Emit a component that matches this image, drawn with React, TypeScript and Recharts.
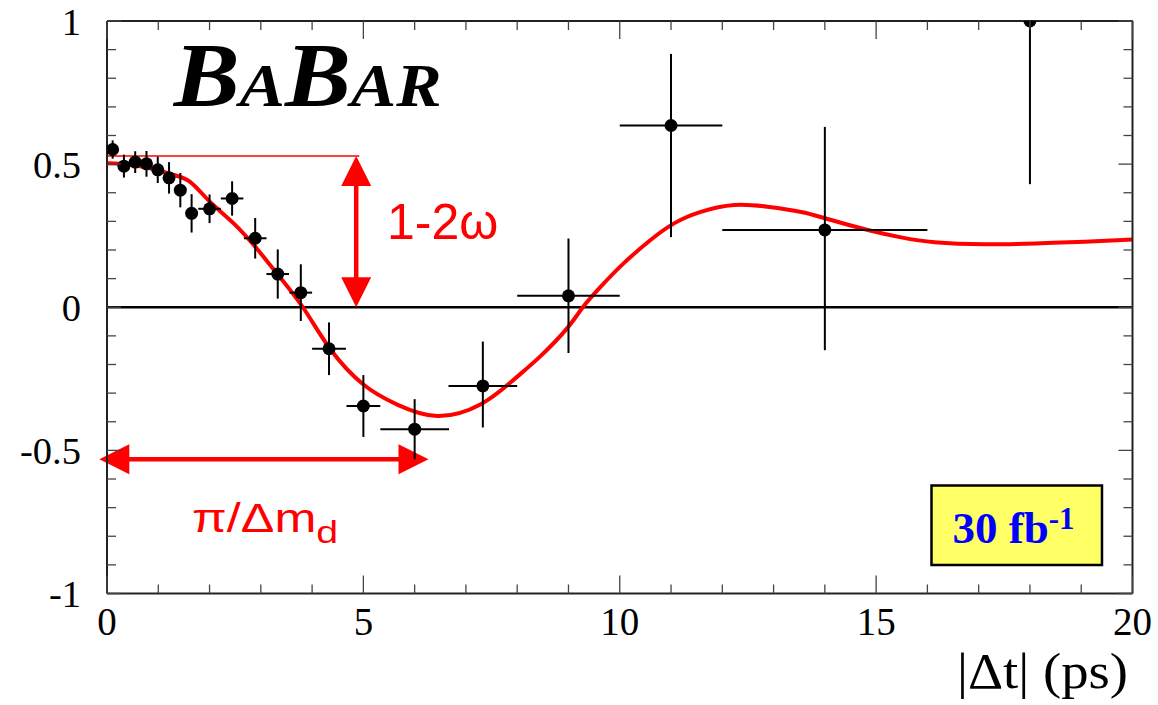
import React from 'react';
import {
  ComposedChart,
  XAxis,
  YAxis,
  Scatter,
  Line,
  ErrorBar,
  ReferenceLine,
  ReferenceDot,
  ReferenceArea,
} from 'recharts';

// ---- data ----
const dtCenters = [0.11, 0.33, 0.55, 0.77, 0.99, 1.21, 1.43, 1.65, 2.0, 2.44, 2.89, 3.33, 3.78, 4.33, 5.0, 6.0, 7.33, 9.0, 11.0, 14.0, 18.0];
const asymmetry = [0.551, 0.493, 0.507, 0.501, 0.48, 0.452, 0.409, 0.328, 0.344, 0.38, 0.241, 0.116, 0.051, -0.145, -0.345, -0.426, -0.275, 0.04, 0.635, 0.27, 1.0];
const errLow = [0.032, 0.04, 0.038, 0.045, 0.046, 0.055, 0.06, 0.067, 0.05, 0.06, 0.071, 0.086, 0.099, 0.092, 0.108, 0.105, 0.145, 0.2, 0.39, 0.42, 0.57];
const errHigh = [0.032, 0.04, 0.038, 0.045, 0.046, 0.055, 0.06, 0.067, 0.05, 0.06, 0.071, 0.086, 0.099, 0.092, 0.108, 0.105, 0.155, 0.2, 0.25, 0.36, 0.0];
const dtHalfWidths = [0.11, 0.11, 0.11, 0.11, 0.11, 0.11, 0.11, 0.11, 0.22, 0.22, 0.22, 0.22, 0.22, 0.33, 0.33, 0.67, 0.67, 1.0, 1.0, 2.0, 2.0];

const curveDt = [0, 0.5, 0.97, 1.3, 1.62, 2.01, 2.47, 2.92, 3.31, 3.82, 4.35, 5.0, 5.66, 6.44, 7.29, 7.94, 8.46, 8.98, 9.28, 9.63, 10.08, 10.6, 11.06, 11.58, 12.23, 12.88, 13.54, 14.02, 14.84, 15.49, 16.14, 17.12, 18.1, 19.07, 20];
const curveAsym = [0.503, 0.497, 0.48, 0.462, 0.438, 0.368, 0.293, 0.205, 0.119, 0.0, -0.145, -0.27, -0.34, -0.38, -0.339, -0.252, -0.17, -0.072, 0.0, 0.072, 0.154, 0.235, 0.293, 0.333, 0.357, 0.351, 0.333, 0.31, 0.27, 0.244, 0.227, 0.22, 0.223, 0.229, 0.237];

const xTicks = [0, 1, 2, 3, 4, 5, 6, 7, 8, 9, 10, 11, 12, 13, 14, 15, 16, 17, 18, 19, 20];
const xMajorLabels = ['0', '5', '10', '15', '20'];
const yTicks = [-1, -0.9, -0.8, -0.7, -0.6, -0.5, -0.4, -0.3, -0.2, -0.1, 0, 0.1, 0.2, 0.3, 0.4, 0.5, 0.6, 0.7, 0.8, 0.9, 1];
const yMajorLabels = ['-1', '-0.5', '0', '0.5', '1'];

// annotation values
const oneMinus2w = 0.528;
const oneMinus2wX = 4.86;
const periodArrowY = -0.531;
const periodArrowStart = -0.15;
const periodArrowEnd = 6.27;

const points = dtCenters.map((x, i) => ({
  x,
  y: asymmetry[i],
  ey: [errLow[i], errHigh[i]],
  ex: dtHalfWidths[i],
}));
const curve = curveDt.map((x, i) => ({ x, y: curveAsym[i] }));

const SERIF = "'Liberation Serif', 'Times New Roman', Times, serif";
const SANS = "'Liberation Sans', Arial, Helvetica, sans-serif";
const TICK_COLOR = '#444';
const FRAME = '#222';

const isMajorX = (v: number) => v % 5 === 0;
const isMajorY = (v: number) => Math.abs(v * 2 - Math.round(v * 2)) < 1e-6;

const BottomTick = (props: any) => {
  const { x, y, payload } = props;
  const v = payload.value;
  const major = isMajorX(v);
  const label = xMajorLabels[v / 5];
  return (
    <g>
      <line x1={x} y1={y} x2={x} y2={y - (major ? 18 : 9)} stroke={TICK_COLOR} strokeWidth={1.3} />
      {major && (
        <text x={x} y={y + 41} textAnchor="middle" fontFamily={SERIF} fontSize={39} fill="#000">
          {label}
        </text>
      )}
    </g>
  );
};

const TopTick = (props: any) => {
  const { x, y, payload } = props;
  const major = isMajorX(payload.value);
  return <line x1={x} y1={y} x2={x} y2={y + (major ? 18 : 9)} stroke={TICK_COLOR} strokeWidth={1.3} />;
};

const LeftTick = (props: any) => {
  const { x, y, payload } = props;
  const v = payload.value;
  const major = isMajorY(v);
  const label = major ? yMajorLabels[Math.round((v + 1) * 2)] : null;
  return (
    <g>
      <line x1={x} y1={y} x2={x + (major ? 14 : 9)} y2={y} stroke={TICK_COLOR} strokeWidth={1.3} />
      {major && (
        <text x={x - 26} y={y + 13.5} textAnchor="end" fontFamily={SERIF} fontSize={38.5} fill="#000">
          {label}
        </text>
      )}
    </g>
  );
};

const RightTick = (props: any) => {
  const { x, y, payload } = props;
  const major = isMajorY(payload.value);
  return <line x1={x} y1={y} x2={x - (major ? 14 : 9)} y2={y} stroke={TICK_COLOR} strokeWidth={1.3} />;
};

const DoubleArrow = (props: any) => {
  const { x1, y1, x2, y2 } = props;
  const dx = x2 - x1;
  const dy = y2 - y1;
  const len = Math.sqrt(dx * dx + dy * dy) || 1;
  const ux = dx / len;
  const uy = dy / len;
  const px = -uy;
  const py = ux;
  const L = 30;
  const hw = 15;
  const head = (tx: number, ty: number, dirx: number, diry: number) => {
    const bx = tx - dirx * L;
    const by = ty - diry * L;
    return `${tx},${ty} ${bx + px * hw},${by + py * hw} ${bx - px * hw},${by - py * hw}`;
  };
  return (
    <g>
      <line
        x1={x1 + ux * (L - 2)}
        y1={y1 + uy * (L - 2)}
        x2={x2 - ux * (L - 2)}
        y2={y2 - uy * (L - 2)}
        stroke="#ff0000"
        strokeWidth={4.5}
      />
      <polygon points={head(x1, y1, -ux, -uy)} fill="#ff0000" />
      <polygon points={head(x2, y2, ux, uy)} fill="#ff0000" />
    </g>
  );
};

const Dot = (props: any) => <circle cx={props.cx} cy={props.cy} r={6.5} fill="#000" />;

export default function App() {
  return (
    <div style={{ position: 'absolute', left: 0, top: 0, width: 1158, height: 705, background: '#fff' }}>
      <ComposedChart
        width={1158}
        height={705}
        margin={{ top: 20, right: 24.5, bottom: 0, left: 0 }}
      >
        <XAxis
          xAxisId={0}
          dataKey="x"
          type="number"
          domain={[0, 20]}
          ticks={xTicks}
          interval={0}
          allowDataOverflow
          height={111.5}
          tickSize={0}
          tickMargin={0}
          tickLine={false}
          axisLine={{ stroke: FRAME, strokeWidth: 2 }}
          tick={<BottomTick />}
        />
        <XAxis
          xAxisId="top"
          orientation="top"
          dataKey="x"
          type="number"
          domain={[0, 20]}
          ticks={xTicks}
          interval={0}
          allowDataOverflow
          height={1}
          tickSize={0}
          tickMargin={0}
          tickLine={false}
          axisLine={{ stroke: FRAME, strokeWidth: 2 }}
          tick={<TopTick />}
        />
        <YAxis
          yAxisId={0}
          type="number"
          domain={[-1, 1]}
          ticks={yTicks}
          interval={0}
          allowDataOverflow
          width={107}
          tickSize={0}
          tickMargin={0}
          tickLine={false}
          axisLine={{ stroke: FRAME, strokeWidth: 2 }}
          tick={<LeftTick />}
        />
        <YAxis
          yAxisId="right"
          orientation="right"
          type="number"
          domain={[-1, 1]}
          ticks={yTicks}
          interval={0}
          allowDataOverflow
          width={1}
          tickSize={0}
          tickMargin={0}
          tickLine={false}
          axisLine={{ stroke: FRAME, strokeWidth: 2 }}
          tick={<RightTick />}
        />

        <ReferenceLine xAxisId={0} yAxisId={0} y={0} stroke="#000" strokeWidth={2.5} />
        <ReferenceLine
          xAxisId={0}
          yAxisId={0}
          segment={[
            { x: 0, y: oneMinus2w },
            { x: 4.92, y: oneMinus2w },
          ]}
          stroke="#ff0000"
          strokeWidth={1.5}
          ifOverflow="visible"
        />
        <ReferenceLine
          xAxisId={0}
          yAxisId={0}
          segment={[
            { x: oneMinus2wX, y: oneMinus2w },
            { x: oneMinus2wX, y: 0 },
          ]}
          ifOverflow="visible"
          shape={<DoubleArrow />}
        />
        <ReferenceLine
          xAxisId={0}
          yAxisId={0}
          segment={[
            { x: periodArrowStart, y: periodArrowY },
            { x: periodArrowEnd, y: periodArrowY },
          ]}
          ifOverflow="visible"
          shape={<DoubleArrow />}
        />

        <ReferenceArea
          xAxisId={0}
          yAxisId={0}
          x1={16.08}
          x2={19.405}
          y1={-0.9}
          y2={-0.623}
          fill="#ffff66"
          fillOpacity={1}
          stroke="#000"
          strokeWidth={2.5}
          ifOverflow="visible"
        />

        <Line
          xAxisId={0}
          yAxisId={0}
          data={curve}
          dataKey="y"
          type="natural"
          stroke="#ff0000"
          strokeWidth={4}
          dot={false}
          activeDot={false}
          isAnimationActive={false}
        />
        <Scatter
          xAxisId={0}
          yAxisId={0}
          data={points}
          dataKey="y"
          shape={<Dot />}
          isAnimationActive={false}
        >
          <ErrorBar dataKey="ey" direction="y" width={0} stroke="#000" strokeWidth={2} isAnimationActive={false} />
          <ErrorBar dataKey="ex" direction="x" width={0} stroke="#000" strokeWidth={2} isAnimationActive={false} />
        </Scatter>

        <ReferenceDot
          xAxisId={0}
          yAxisId={0}
          x={1.3}
          y={0.703}
          ifOverflow="visible"
          shape={(p: any) => (
            <text
              x={p.cx}
              y={p.cy}
              fontFamily={SERIF}
              fontWeight="bold"
              fontStyle="italic"
              fill="#000"
              textLength={268}
              lengthAdjust="spacingAndGlyphs"
            >
              <tspan fontSize={90}>B</tspan>
              <tspan fontSize={62}>A</tspan>
              <tspan fontSize={90}>B</tspan>
              <tspan fontSize={62}>AR</tspan>
            </text>
          )}
        />
        <ReferenceDot
          xAxisId={0}
          yAxisId={0}
          x={5.46}
          y={0.2375}
          ifOverflow="visible"
          shape={(p: any) => (
            <text x={p.cx} y={p.cy} fontFamily={SANS} fontSize={50} fill="#ff0000">
              1-2ω
            </text>
          )}
        />
        <ReferenceDot
          xAxisId={0}
          yAxisId={0}
          x={1.66}
          y={-0.784}
          ifOverflow="visible"
          shape={(p: any) => (
            <text
              x={p.cx}
              y={p.cy}
              fontFamily={SANS}
              fontSize={41}
              fill="#ff0000"
              textLength={146}
              lengthAdjust="spacingAndGlyphs"
            >
              π/Δm
              <tspan fontSize={32} dy={11}>
                d
              </tspan>
            </text>
          )}
        />
        <ReferenceDot
          xAxisId={0}
          yAxisId={0}
          x={16.08}
          y={-0.623}
          ifOverflow="visible"
          shape={(p: any) => (
            <text x={p.cx + 21} y={p.cy + 57.6} fontFamily={SERIF} fontWeight="bold" fontSize={45} fill="#0000ff">
              30 fb
              <tspan fontSize={31} dy={-14}>
                -1
              </tspan>
            </text>
          )}
        />
        <ReferenceDot
          xAxisId={0}
          yAxisId={0}
          x={20}
          y={-1}
          ifOverflow="visible"
          shape={(p: any) => (
            <text
              x={p.cx - 4.5}
              y={p.cy + 94.5}
              textAnchor="end"
              fontFamily={SERIF}
              fontSize={50}
              fill="#000"
              textLength={171}
              lengthAdjust="spacingAndGlyphs"
            >
              |Δt| (ps)
            </text>
          )}
        />
      </ComposedChart>
    </div>
  );
}
